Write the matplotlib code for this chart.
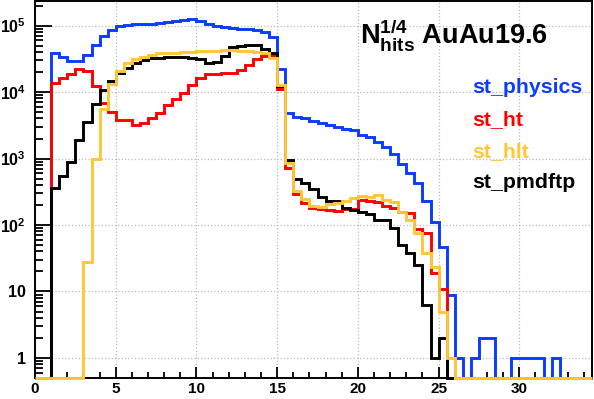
import numpy as np
import matplotlib
matplotlib.use('Agg')
import matplotlib.pyplot as plt
from matplotlib.ticker import LogLocator, MultipleLocator, NullFormatter

# bin edges: 0 .. 34.5 in steps of 0.5
edges = np.arange(0, 34.51, 0.5)

st_physics = [0, 0, 38000, 34000, 29500, 29500, 36000, 50500, 70000, 87000,
              98000, 103000, 107000, 107000, 107000, 110000, 113000, 117000, 121000, 127000,
              117000, 107000, 100000, 96000, 91000, 89000, 88000, 85000, 80000, 68000,
              22300, 4900, 4250, 4000, 3700, 3460, 3220, 3010, 2810, 2690,
              2290, 2130, 1790, 1510, 1150, 840, 610, 425, 233, 110,
              47, 9, 1, 0, 1, 2, 2, 0, 0, 1,
              1, 1, 1, 0, 1, 0, 0, 0, 0]
st_ht = [0, 0, 13700, 16200, 18600, 22000, 20500, 12300, 6900, 5000,
         3800, 3800, 3180, 3460, 4000, 4900, 6300, 7900, 9700, 12700,
         16300, 19000, 19000, 19400, 19400, 21300, 25900, 31000, 35000, 35600,
         11000, 710, 290, 213, 178, 174, 168, 165, 174, 174,
         237, 230, 225, 190, 182, 159, 150, 87, 75, 19,
         11, 0, 0, 0, 0, 0, 0, 0, 0, 0,
         0, 0, 0, 0, 0, 0, 0, 0, 0]
st_hlt = [0, 0, 0, 0, 0, 0, 28, 980, 5500, 13000,
          21000, 27500, 31000, 34000, 36000, 38000, 39000, 39000, 40000, 40000,
          41500, 41500, 41500, 42500, 42500, 41500, 41500, 40000, 38000, 33000,
          12700, 870, 330, 245, 195, 185, 208, 218, 233, 252,
          273, 268, 278, 238, 225, 159, 120, 77, 38, 23,
          5, 1, 0, 0, 0, 0, 0, 0, 0, 0,
          0, 0, 0, 0, 0, 0, 0, 0, 0]
st_pmdftp = [0, 0, 365, 550, 890, 1900, 3550, 6500, 10700, 14700,
             19400, 23000, 27000, 30500, 32000, 32500, 34000, 34000, 33500, 32000,
             31000, 27500, 28500, 35000, 48000, 49500, 50500, 50500, 45000, 39000,
             12300, 950, 490, 435, 348, 268, 230, 230, 178, 168,
             157, 148, 117, 117, 89, 50, 38, 25, 6.3, 1,
             2, 0, 0, 0, 0, 0, 0, 0, 0, 0,
             0, 0, 0, 0, 0, 0, 0, 0, 0]

names = ['st_physics', 'st_ht', 'st_hlt', 'st_pmdftp']
colors = ['#0a3cff', '#ff0000', '#ffc635', '#000000']
ytick_vals = [1, 10, 100, 1e3, 1e4, 1e5]
ytick_labels = ['1', '10', r'$10^{2}$', r'$10^{3}$', r'$10^{4}$', r'$10^{5}$']

plt.rcParams['font.family'] = ['Liberation Sans', 'DejaVu Sans']
plt.rcParams['font.weight'] = 'bold'
plt.rcParams['mathtext.fontset'] = 'custom'
plt.rcParams['mathtext.rm'] = 'Liberation Sans:bold'
plt.rcParams['mathtext.it'] = 'Liberation Sans:bold'
plt.rcParams['mathtext.bf'] = 'Liberation Sans:bold'
plt.rcParams['mathtext.default'] = 'rm'

ymin, ymax = 0.5, 2.3e5

fig = plt.figure(figsize=(5.94, 3.99), dpi=100)
ax = fig.add_axes([35 / 594, 1 - 378 / 399, 557 / 594, 376.5 / 399])

hists = [st_physics, st_ht, st_pmdftp, st_hlt]
cols = [colors[0], colors[1], colors[3], colors[2]]
for h, c in zip(hists, cols):
    v = np.array(h, dtype=float)
    v = np.where(v > 0, v, ymin)  # empty bins sit on the frame, ROOT style
    ax.stairs(v, edges, color=c, lw=2.1, baseline=None, zorder=3, clip_on=False)

ax.set_yscale('log')
ax.set_xlim(0, 34.5)
ax.set_ylim(ymin, ymax)

ax.set_yticks(ytick_vals)
ax.set_yticklabels(ytick_labels)
ax.yaxis.set_minor_locator(LogLocator(base=10, subs=np.arange(2, 10)))
ax.yaxis.set_minor_formatter(NullFormatter())
ax.xaxis.set_major_locator(MultipleLocator(5))
ax.xaxis.set_minor_locator(MultipleLocator(1))

ax.tick_params(axis='y', which='major', direction='in', length=12.5, width=1.3,
               labelsize=11.5, pad=6.5)
ax.tick_params(axis='y', which='minor', direction='in', length=6, width=1.3)
ax.tick_params(axis='x', which='major', direction='in', length=8, width=1.3,
               labelsize=11, pad=3)
ax.tick_params(axis='x', which='minor', direction='in', length=4, width=1.3)
for lab in ax.get_xticklabels() + ax.get_yticklabels():
    lab.set_fontweight('bold')

for s in ax.spines.values():
    s.set_linewidth(1.4)

ax.grid(True, which='major', ls=':', color='#bbbbbb', lw=0.9)

fig.text(360 / 594, 1 - 45 / 399, r'$N_{hits}^{1/4}$ AuAu19.6', fontsize=19.5,
         fontweight='bold', va='baseline', ha='left')

baselines = [93, 125, 157, 188]
for name, c, yb in zip(names, colors, baselines):
    fig.text(472 / 594, 1 - yb / 399, name, color=c, fontsize=15.3,
             fontweight='bold', va='baseline', ha='left')

fig.savefig('out.png', dpi=100)
